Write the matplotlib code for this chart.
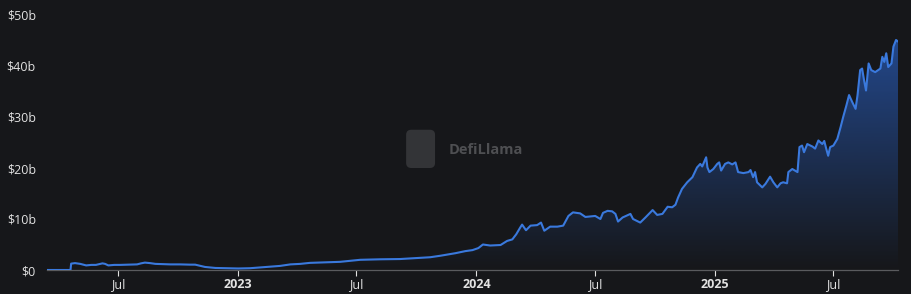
import numpy as np
import pandas as pd
import matplotlib
matplotlib.use("Agg")
import matplotlib.pyplot as plt
import matplotlib.dates as mdates
from matplotlib.patches import FancyBboxPatch

# TVL in billions USD
dates = [
    "2022-03-14", "2022-04-19", "2022-04-20", "2022-04-26", "2022-05-04", "2022-05-13",
    "2022-05-21", "2022-05-28", "2022-06-07", "2022-06-11", "2022-06-16", "2022-06-25",
    "2022-07-04", "2022-07-16", "2022-07-30", "2022-08-05", "2022-08-11", "2022-08-19",
    "2022-08-27", "2022-09-08", "2022-09-19", "2022-10-04", "2022-10-19", "2022-10-27",
    "2022-11-04", "2022-11-11", "2022-11-27", "2022-12-12", "2023-01-01", "2023-01-19",
    "2023-02-04", "2023-02-19", "2023-03-06", "2023-03-22", "2023-04-06", "2023-04-21",
    "2023-05-14", "2023-06-06", "2023-07-07", "2023-08-07", "2023-09-06", "2023-10-07",
    "2023-10-22", "2023-11-07", "2023-11-30", "2023-12-15", "2023-12-26", "2024-01-04",
    "2024-01-11", "2024-01-22", "2024-02-07", "2024-02-17", "2024-02-25", "2024-03-02",
    "2024-03-08", "2024-03-11", "2024-03-17", "2024-03-24", "2024-04-03", "2024-04-09",
    "2024-04-14", "2024-04-23", "2024-05-04", "2024-05-13", "2024-05-21", "2024-05-28",
    "2024-06-08", "2024-06-16", "2024-07-01", "2024-07-09", "2024-07-13", "2024-07-20",
    "2024-07-27", "2024-08-01", "2024-08-05", "2024-08-12", "2024-08-24", "2024-08-28",
    "2024-09-08", "2024-09-16", "2024-09-27", "2024-10-04", "2024-10-12", "2024-10-20",
    "2024-10-27", "2024-11-01", "2024-11-05", "2024-11-11", "2024-11-19", "2024-11-27",
    "2024-12-04", "2024-12-09", "2024-12-12", "2024-12-18", "2024-12-20", "2024-12-23",
    "2024-12-29", "2025-01-04", "2025-01-07", "2025-01-10", "2025-01-16", "2025-01-21",
    "2025-01-27", "2025-02-01", "2025-02-05", "2025-02-13", "2025-02-21", "2025-02-24",
    "2025-02-28", "2025-03-03", "2025-03-06", "2025-03-14", "2025-03-19", "2025-03-26",
    "2025-03-31", "2025-04-06", "2025-04-11", "2025-04-15", "2025-04-21", "2025-04-23",
    "2025-04-29", "2025-05-07", "2025-05-10", "2025-05-14", "2025-05-17", "2025-05-22",
    "2025-05-30", "2025-06-03", "2025-06-08", "2025-06-14", "2025-06-17", "2025-06-20",
    "2025-06-23", "2025-06-26", "2025-07-01", "2025-07-07", "2025-07-12", "2025-07-16",
    "2025-07-21", "2025-07-25", "2025-07-30", "2025-08-04", "2025-08-07", "2025-08-11",
    "2025-08-14", "2025-08-17", "2025-08-20", "2025-08-24", "2025-08-28", "2025-09-03",
    "2025-09-11", "2025-09-14", "2025-09-17", "2025-09-20", "2025-09-23", "2025-09-28",
    "2025-10-01", "2025-10-05", "2025-10-08",
]
tvl_b = [
    0.0, 0.0, 1.25, 1.35, 1.2, 0.9,
    1.0, 1.0, 1.3, 1.2, 0.9, 1.0,
    1.0, 1.05, 1.1, 1.3, 1.45, 1.35,
    1.2, 1.15, 1.1, 1.1, 1.05, 1.05,
    0.8, 0.6, 0.4, 0.35, 0.3, 0.35,
    0.5, 0.65, 0.8, 1.1, 1.2, 1.4,
    1.5, 1.6, 2.0, 2.1, 2.15, 2.4,
    2.5, 2.8, 3.3, 3.7, 3.9, 4.3,
    5.0, 4.8, 4.9, 5.7, 6.0, 7.0,
    8.3, 8.9, 7.8, 8.7, 8.8, 9.3,
    7.7, 8.5, 8.5, 8.7, 10.6, 11.3,
    11.1, 10.4, 10.6, 10.0, 11.2, 11.6,
    11.5, 11.0, 9.5, 10.3, 11.0, 10.0,
    9.3, 10.3, 11.75, 10.8, 11.0, 12.4,
    12.3, 12.8, 14.2, 15.9, 17.2, 18.2,
    20.1, 20.8, 20.3, 22.1, 20.1, 19.2,
    19.8, 20.8, 21.1, 19.5, 20.8, 21.1,
    20.7, 21.1, 19.2, 19.0, 19.2, 19.6,
    18.2, 19.2, 17.2, 16.2, 16.9, 18.3,
    17.2, 16.2, 17.0, 17.2, 17.0, 19.2,
    19.8, 19.2, 24.1, 24.4, 23.1, 24.7,
    24.2, 23.8, 25.4, 24.7, 25.3, 23.8,
    22.4, 24.1, 24.4, 25.7, 28.0, 30.0,
    32.3, 34.3, 32.9, 31.6, 34.3, 39.2,
    39.5, 37.2, 35.2, 40.5, 39.2, 38.8,
    39.5, 41.8, 40.8, 42.5, 39.8, 40.5,
    43.8, 45.1, 44.8,
]

tick_dates = ["2022-07-01", "2023-01-01", "2023-07-01", "2024-01-01",
              "2024-07-01", "2025-01-01", "2025-07-01"]
tick_labels = ["Jul", "2023", "Jul", "2024", "Jul", "2025", "Jul"]
y_ticks = [0, 10, 20, 30, 40, 50]
y_labels = ["\\$0", "\\$10b", "\\$20b", "\\$30b", "\\$40b", "\\$50b"]

BG = "#16171a"
LINE = "#3a79dd"
TEXT = "#e2e2e2"

plt.rcParams["font.family"] = ["Open Sans", "DejaVu Sans"]

fig = plt.figure(figsize=(9.11, 2.94), dpi=100, facecolor=BG)
ax = fig.add_axes([47 / 911, 24 / 294, 851 / 911, 255 / 294])
ax.set_facecolor(BG)

x = mdates.date2num(pd.to_datetime(dates))
y = np.array(tvl_b)

# gradient fill under the line
poly = ax.fill_between(x, y, 0, color="none", linewidth=0)
grad = np.zeros((256, 1, 4))
grad[..., 0] = 0.17
grad[..., 1] = 0.40
grad[..., 2] = 0.82
grad[..., 3] = np.linspace(0.62, 0.0, 256)[:, None]
img = ax.imshow(grad, aspect="auto", extent=[x.min(), x.max(), 0, y.max()],
                origin="upper", zorder=1, interpolation="bilinear")
img.set_clip_path(poly.get_paths()[0], transform=ax.transData)

ax.plot(x, y, color=LINE, linewidth=1.5, zorder=3, solid_joinstyle="round")

ax.set_xlim(x.min(), x.max())
ax.set_ylim(0, 50)

ax.set_xticks(mdates.date2num(pd.to_datetime(tick_dates)))
ax.set_xticklabels(tick_labels)
for lbl in ax.get_xticklabels():
    if lbl.get_text().isdigit():
        lbl.set_fontweight("bold")
ax.set_yticks(y_ticks)
ax.set_yticklabels(y_labels)

ax.tick_params(axis="x", colors=TEXT, labelsize=9, length=4, width=0.8,
               direction="out", pad=2)
ax.tick_params(axis="y", colors=TEXT, labelsize=9, length=0, pad=8)

for side in ["top", "right", "left"]:
    ax.spines[side].set_visible(False)
ax.spines["bottom"].set_color("#5a5b5e")
ax.spines["bottom"].set_linewidth(0.9)

# watermark
logo = FancyBboxPatch((0.422, 0.40), 0.034, 0.15, transform=ax.transAxes,
                      boxstyle="round,pad=0,rounding_size=0.006",
                      mutation_aspect=851 / 255,
                      facecolor="#333437", edgecolor="none", zorder=0)
ax.add_patch(logo)
ax.text(0.472, 0.47, "DefiLlama", transform=ax.transAxes, color="#4e4f52",
        fontsize=10.5, fontweight="bold", va="center", ha="left", zorder=0)

fig.savefig("out.png", dpi=100, facecolor=BG)
